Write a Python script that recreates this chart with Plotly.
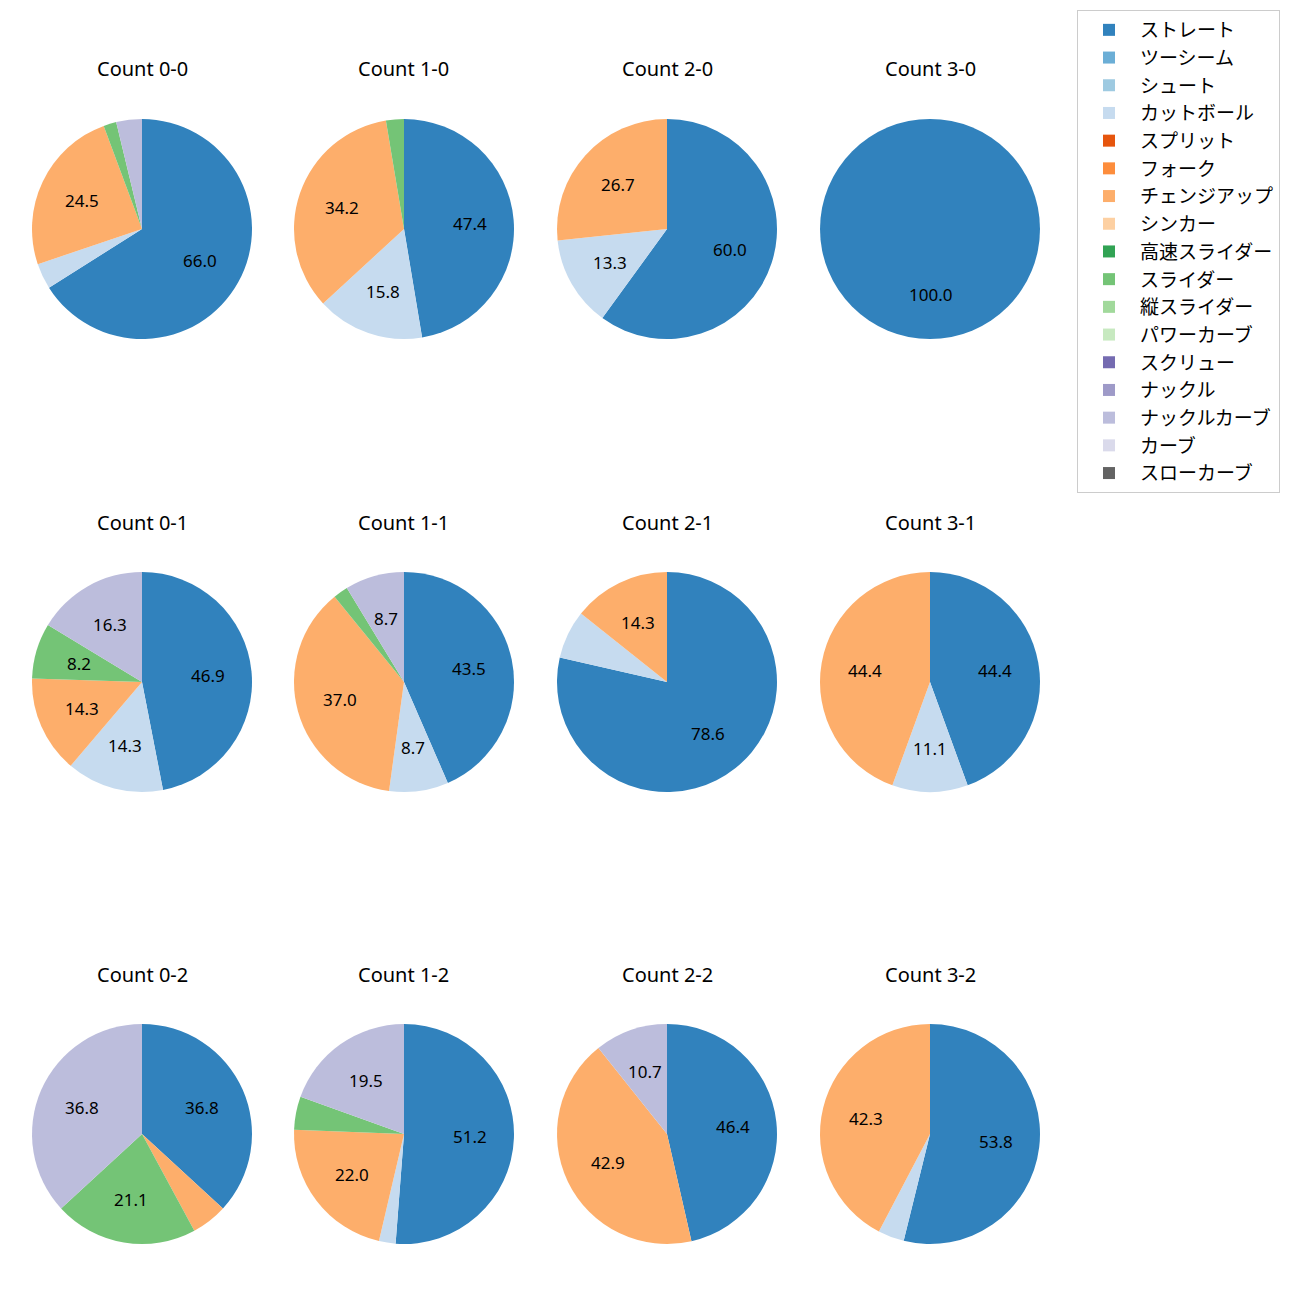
import math
import plotly.graph_objects as go

pitch_types = ["ストレート", "ツーシーム", "シュート", "カットボール", "スプリット", "フォーク",
               "チェンジアップ", "シンカー", "高速スライダー", "スライダー", "縦スライダー",
               "パワーカーブ", "スクリュー", "ナックル", "ナックルカーブ", "カーブ", "スローカーブ"]
colors = ["#3182bd", "#6baed6", "#9ecae1", "#c6dbef", "#e6550d", "#fd8d3c", "#fdae6b", "#fdd0a2",
          "#31a354", "#74c476", "#a1d99b", "#c7e9c0", "#756bb1", "#9e9ac8", "#bcbddc", "#dadaeb",
          "#636363"]

counts = ["0-0", "1-0", "2-0", "3-0", "0-1", "1-1", "2-1", "3-1", "0-2", "1-2", "2-2", "3-2"]

# pitch counts per ball-strike count (order follows pitch_types)
def row(straight=0, cut=0, change=0, slider=0, kcurve=0):
    v = [0] * 17
    v[0] = straight; v[3] = cut; v[6] = change; v[9] = slider; v[14] = kcurve
    return v

c_0_0 = row(straight=35, cut=2, change=13, slider=1, kcurve=2)
c_1_0 = row(straight=18, cut=6, change=13, slider=1)
c_2_0 = row(straight=9, cut=2, change=4)
c_3_0 = row(straight=1)
c_0_1 = row(straight=23, cut=7, change=7, slider=4, kcurve=8)
c_1_1 = row(straight=20, cut=4, change=17, slider=1, kcurve=4)
c_2_1 = row(straight=11, cut=1, change=2)
c_3_1 = row(straight=4, cut=1, change=4)
c_0_2 = row(straight=7, change=1, slider=4, kcurve=7)
c_1_2 = row(straight=21, cut=1, change=9, slider=2, kcurve=8)
c_2_2 = row(straight=13, change=12, kcurve=3)
c_3_2 = row(straight=14, cut=1, change=11)

data = [c_0_0, c_1_0, c_2_0, c_3_0, c_0_1, c_1_1, c_2_1, c_3_1, c_0_2, c_1_2, c_2_2, c_3_2]

W = H = 1300
col_cx = [142, 404, 667, 930]
row_cy = [229, 682, 1134]
R = 110
LABEL_R = 0.6
MIN_PCT = 8

FONT = "Noto Sans, Noto Sans CJK JP, sans-serif"

fig = go.Figure()
annotations = []
for k, (name, vals) in enumerate(zip(counts, data)):
    r, c = divmod(k, 4)
    cx, cy = col_cx[c], row_cy[r]
    tot = sum(vals)
    fig.add_trace(go.Pie(
        labels=pitch_types, values=vals, textinfo="none",
        marker=dict(colors=colors, line=dict(width=0)),
        sort=False, direction="clockwise", rotation=0,
        domain=dict(x=[(cx - R) / W, (cx + R) / W], y=[1 - (cy + R) / H, 1 - (cy - R) / H]),
        showlegend=(k == 0), hoverinfo="label+percent",
    ))
    cum = 0
    for v in vals:
        if v > 0:
            p = 100.0 * v / tot
            if p >= MIN_PCT:
                th = math.radians(90 - 360.0 * (cum + v / 2) / tot)
                annotations.append(dict(
                    text=f"{p:.1f}",
                    x=(cx + LABEL_R * R * math.cos(th)) / W,
                    y=1 - (cy - LABEL_R * R * math.sin(th)) / H,
                    xref="paper", yref="paper", showarrow=False,
                    xanchor="center", yanchor="middle",
                    font=dict(size=17, color="black", family=FONT)))
        cum += v
    annotations.append(dict(text=f"Count {name}", x=cx / W, y=1 - (cy - 160) / H,
                            xref="paper", yref="paper", showarrow=False,
                            font=dict(size=20, color="black", family=FONT),
                            xanchor="center", yanchor="middle"))

fig.update_layout(
    width=W, height=H, margin=dict(l=0, r=0, t=0, b=0),
    paper_bgcolor="white", plot_bgcolor="white",
    annotations=annotations,
    legend=dict(x=1077 / W, y=1 - 10 / H, xanchor="left", yanchor="top",
                bordercolor="#cccccc", borderwidth=1, bgcolor="white",
                itemwidth=52,
                font=dict(size=19, color="black", family=FONT), traceorder="normal"),
)
fig.write_html("out.html")
